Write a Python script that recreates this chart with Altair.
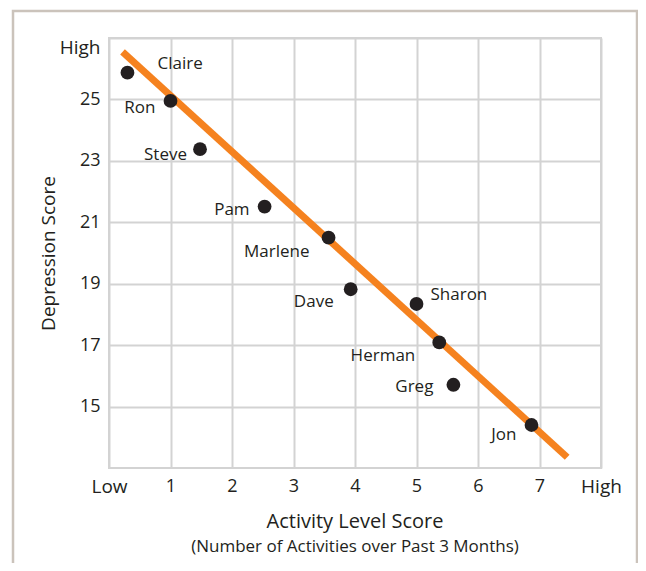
import altair as alt
import pandas as pd

# ---- data ----
names = ["Claire", "Ron", "Steve", "Pam", "Marlene", "Dave", "Sharon", "Herman", "Greg", "Jon"]
activity = [0.30, 1.00, 1.48, 2.53, 3.57, 3.93, 5.00, 5.37, 5.60, 6.87]
depression = [25.87, 24.95, 23.38, 21.51, 20.50, 18.82, 18.34, 17.09, 15.71, 14.40]

# label placement (pixels, relative to the point) and side
label_dx = [30, -15, -13, -15, -19, -17, 14, -24, -20, -15]
label_dy = [-9, 7, 6, 3, 14, 13, -9, 14, 2, 10]
label_side = ["left", "right", "right", "right", "right", "right", "left", "right", "right", "right"]

# fitted trend line end points
trend_x = [0.22, 7.45]
trend_y = [26.55, 13.35]

x_ticks = [0, 1, 2, 3, 4, 5, 6, 7, 8]
y_ticks = [15, 17, 19, 21, 23, 25, 27]

FONT = "Open Sans"
TEXT = "#231f20"
GRID = "#d3d3d3"

pts = pd.DataFrame({"name": names, "x": activity, "y": depression,
                    "dx": label_dx, "dy": label_dy, "side": label_side})
trend = pd.DataFrame({"x": trend_x, "y": trend_y})

xscale = alt.Scale(domain=[0, 8], nice=False, zero=False)
yscale = alt.Scale(domain=[13, 27], nice=False, zero=False)

x_axis = alt.Axis(
    values=x_ticks, title=None,
    labelExpr="datum.value == 0 ? 'Low' : datum.value == 8 ? 'High' : datum.value",
    labelFontSize={"condition": {"test": "datum.value == 0 || datum.value == 8", "value": 19}, "value": 18},
    ticks=False, labelPadding=9, labelFlush=False,
    grid=True, gridColor=GRID, gridWidth=2, domain=False,
    labelColor=TEXT, labelFont=FONT,
)
y_axis = alt.Axis(
    values=y_ticks, title="Depression Score",
    labelExpr="datum.value == 27 ? 'High' : datum.value",
    labelFontSize={"condition": {"test": "datum.value == 27", "value": 19}, "value": 18},
    ticks=False, labelPadding=9, labelFlush=True, titlePadding=1,
    titleFontSize=19, titleFontWeight="normal",
    grid=True, gridColor=GRID, gridWidth=2, domain=False,
    labelColor=TEXT, titleColor=TEXT, labelFont=FONT, titleFont=FONT,
)

frame = alt.Chart(pd.DataFrame({"k": [0]})).mark_rect(
    fill=None, stroke="#cbc3bb", strokeWidth=2.5
).encode(
    x=alt.value(-96), x2=alt.value(528), y=alt.value(-27), y2=alt.value(530)
)

line = alt.Chart(trend).mark_line(color="#f5821f", strokeWidth=7, strokeCap="butt").encode(
    x=alt.X("x:Q", scale=xscale, axis=x_axis),
    y=alt.Y("y:Q", scale=yscale, axis=y_axis),
)

points = alt.Chart(pts).mark_circle(size=190, color=TEXT, opacity=1).encode(
    x=alt.X("x:Q", scale=xscale),
    y=alt.Y("y:Q", scale=yscale),
)

labels = alt.Chart(pts).mark_text(
    align=alt.expr("datum.side"), dx=alt.expr("datum.dx"), dy=alt.expr("datum.dy"),
    baseline="middle", font=FONT, fontSize=17, color=TEXT
).encode(
    x=alt.X("x:Q", scale=xscale),
    y=alt.Y("y:Q", scale=yscale),
    text="name:N",
)

chart = alt.layer(frame, line, points, labels).properties(
    width=492, height=430,
    autosize=alt.AutoSizeParams(type="none"),
    padding={"left": 101, "top": 30, "right": 37, "bottom": 95},
    background="white",
    title=alt.TitleParams(
        text="Activity Level Score",
        subtitle="(Number of Activities over Past 3 Months)",
        orient="bottom", anchor="middle", frame="group",
        fontSize=20, fontWeight="normal", font=FONT, color=TEXT,
        subtitleFontSize=17, subtitleFont=FONT, subtitleColor=TEXT, subtitlePadding=7,
        offset=-57,
    ),
).configure_view(stroke=GRID, strokeWidth=2)

chart.save("out.html", embed_options={"renderer": "svg", "actions": False})
